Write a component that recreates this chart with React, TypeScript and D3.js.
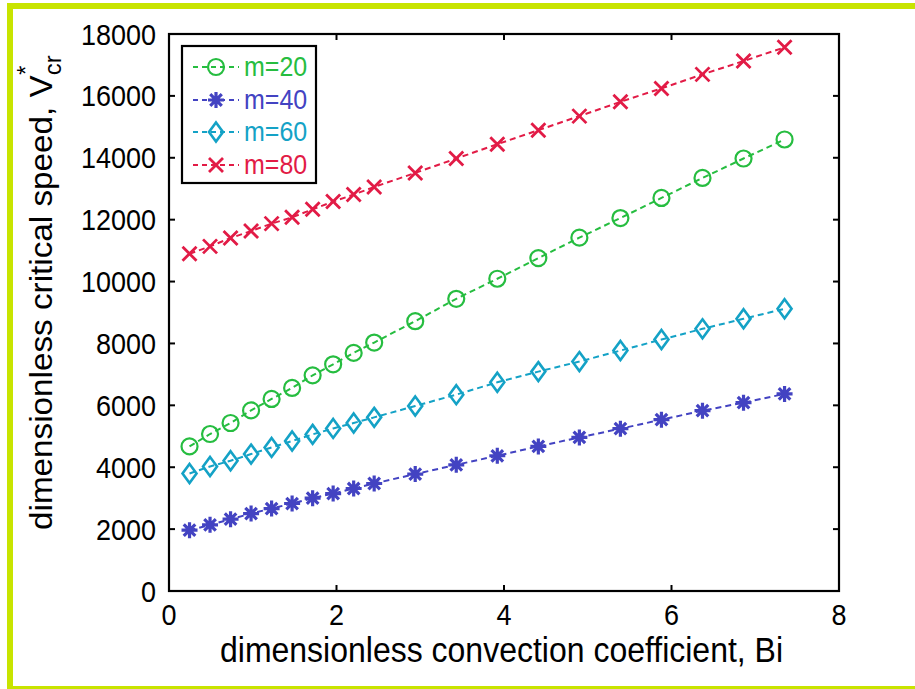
import { scaleLinear, line } from 'd3'

// Biot numbers used on the x axis
const bi = [0.245, 0.49, 0.735, 0.98, 1.225, 1.47, 1.715, 1.96, 2.205, 2.45, 2.94, 3.43, 3.92, 4.41, 4.9, 5.39, 5.88, 6.37, 6.86, 7.35]

const m20 = [4672, 5073, 5429, 5837, 6206, 6562, 6970, 7326, 7695, 8029, 8719, 9443, 10091, 10758, 11419, 12053, 12701, 13348, 13976, 14591]
const m40 = [1965, 2137, 2321, 2503, 2665, 2827, 3001, 3150, 3312, 3474, 3778, 4079, 4370, 4672, 4963, 5245, 5536, 5827, 6086, 6368]
const m60 = [3798, 4024, 4209, 4425, 4640, 4846, 5061, 5254, 5429, 5611, 5979, 6345, 6744, 7090, 7414, 7770, 8126, 8472, 8796, 9120]
const m80 = [10900, 11137, 11405, 11632, 11872, 12076, 12335, 12584, 12811, 13057, 13510, 13976, 14439, 14892, 15346, 15808, 16242, 16695, 17126, 17569]

const xTicks = [0, 2, 4, 6, 8]
const yTicks = [0, 2000, 4000, 6000, 8000, 10000, 12000, 14000, 16000, 18000]

type MarkerType = 'circle' | 'star' | 'diamond' | 'cross'

const series: { label: string; values: number[]; color: string; marker: MarkerType }[] = [
  { label: 'm=20', values: m20, color: '#26bd40', marker: 'circle' },
  { label: 'm=40', values: m40, color: '#4343c2', marker: 'star' },
  { label: 'm=60', values: m60, color: '#14a2c6', marker: 'diamond' },
  { label: 'm=80', values: m80, color: '#e21b46', marker: 'cross' },
]

const FONT = '"Liberation Sans", Arial, sans-serif'
// the source picture is a little taller than wide, so text is stretched vertically
const STRETCH = 1.1

function Marker({ type, x, y, color }: { type: MarkerType; x: number; y: number; color: string }) {
  const sw = 2.2
  if (type === 'circle') {
    return <circle cx={x} cy={y} r={8} fill="none" stroke={color} strokeWidth={sw} />
  }
  if (type === 'diamond') {
    const d = `M${x},${y - 9.5}L${x + 7},${y}L${x},${y + 9.5}L${x - 7},${y}Z`
    return <path d={d} fill="none" stroke={color} strokeWidth={sw + 0.4} />
  }
  if (type === 'cross') {
    const r = 7
    return (
      <path
        d={`M${x - r},${y - r}L${x + r},${y + r}M${x - r},${y + r}L${x + r},${y - r}`}
        stroke={color}
        strokeWidth={sw + 0.6}
      />
    )
  }
  // star: plus + x
  const r = 8
  const q = r * 0.72
  return (
    <path
      d={`M${x - r},${y}L${x + r},${y}M${x},${y - r}L${x},${y + r}M${x - q},${y - q}L${x + q},${y + q}M${x - q},${y + q}L${x + q},${y - q}`}
      stroke={color}
      strokeWidth={3.2}
    />
  )
}

function Label({ x, y, size, anchor = 'start', fill = '#000', children }: {
  x: number; y: number; size: number; anchor?: string; fill?: string; children: React.ReactNode
}) {
  return (
    <text transform={`translate(${x},${y}) scale(1,${STRETCH})`} textAnchor={anchor} fontSize={size} fill={fill}>
      {children}
    </text>
  )
}

export default function App() {
  const left = 169
  const right = 839
  const top = 34
  const bottom = 591

  const x = scaleLinear().domain([0, 8]).range([left, right])
  const y = scaleLinear().domain([0, 18000]).range([bottom, top])

  const pathGen = line<number>()
    .x((_, i) => x(bi[i]))
    .y((d) => y(d))

  const tickLen = 6

  // legend placement
  const legX = 182
  const legY = 46
  const legW = 134
  const legH = 137
  const rowY = [67, 100, 132, 165]

  return (
    <svg
      width={915}
      height={689}
      style={{ position: 'absolute', left: 0, top: 0, background: '#fff' }}
      fontFamily={FONT}
    >
      {/* frame border */}
      <rect x={10} y={6} width={920} height={683} fill="none" stroke="#c8e400" strokeWidth={6} />

      {/* series lines */}
      {series.map((s) => (
        <path
          key={s.label}
          d={pathGen(s.values) ?? ''}
          fill="none"
          stroke={s.color}
          strokeWidth={2}
          strokeDasharray="6,4"
        />
      ))}
      {series.map((s) =>
        s.values.map((v, i) => <Marker key={s.label + i} type={s.marker} x={x(bi[i])} y={y(v)} color={s.color} />),
      )}

      {/* axes box */}
      <rect x={left} y={top} width={right - left} height={bottom - top} fill="none" stroke="#000" strokeWidth={2.2} />

      {/* x ticks */}
      {xTicks.map((t) => (
        <g key={'x' + t}>
          <line x1={x(t)} x2={x(t)} y1={bottom} y2={bottom - tickLen} stroke="#000" strokeWidth={2} />
          <line x1={x(t)} x2={x(t)} y1={top} y2={top + tickLen} stroke="#000" strokeWidth={2} />
          <Label x={x(t)} y={625} size={27} anchor="middle">
            {t}
          </Label>
        </g>
      ))}

      {/* y ticks */}
      {yTicks.map((t) => (
        <g key={'y' + t}>
          <line x1={left} x2={left + tickLen} y1={y(t)} y2={y(t)} stroke="#000" strokeWidth={2} />
          <line x1={right} x2={right - tickLen} y1={y(t)} y2={y(t)} stroke="#000" strokeWidth={2} />
          <Label x={156} y={y(t) + 10.5} size={27} anchor="end">
            {t}
          </Label>
        </g>
      ))}

      {/* axis labels */}
      <Label x={220} y={662} size={32}>
        dimensionless convection coefficient, Bi
      </Label>
      <text transform="translate(52,530) rotate(-90) scale(1.04,1)" fontSize={32} fill="#000">
        dimensionless critical speed, V
        <tspan dy={9} fontSize={23}>
          cr
        </tspan>
        <tspan dx={-19} dy={-27} fontSize={23}>
          *
        </tspan>
      </text>

      {/* legend */}
      <rect x={legX} y={legY} width={legW} height={legH} fill="#fff" stroke="#000" strokeWidth={2.2} />
      {series.map((s, i) => (
        <g key={'leg' + s.label}>
          <line x1={193} x2={239} y1={rowY[i]} y2={rowY[i]} stroke={s.color} strokeWidth={2} strokeDasharray="5,4" />
          <Marker type={s.marker} x={216} y={rowY[i]} color={s.color} />
          <Label x={244} y={rowY[i] + 9} size={25} fill={s.color}>
            {s.label}
          </Label>
        </g>
      ))}
    </svg>
  )
}
